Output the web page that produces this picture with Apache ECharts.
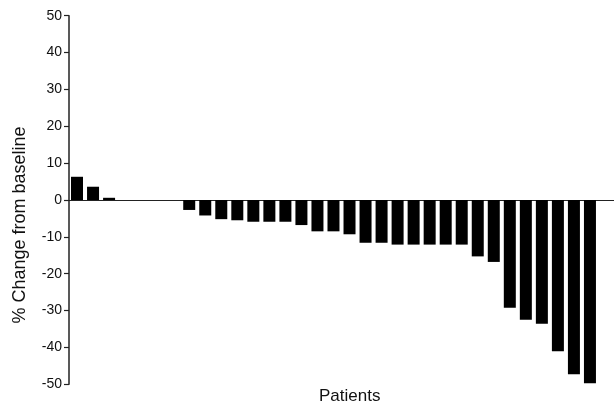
<!DOCTYPE html>
<html>
<head>
<meta charset="utf-8">
<script src="https://cdn.jsdelivr.net/npm/echarts@6/dist/echarts.min.js"></script>
<style>
  html, body { margin: 0; padding: 0; background: #fff; }
  #main { width: 614px; height: 405px; }
</style>
</head>
<body>
<div id="main"></div>
<script>
// one value per patient, % change from baseline (the last slot is empty)
var patients = [];
var changes = [6.3, 3.6, 0.6, 0, 0, 0, 0,
  -2.7, -4.2, -5.2, -5.5, -5.9, -5.9, -5.9, -6.8, -8.5, -8.5, -9.3,
  -11.6, -11.6, -12.1, -12.1, -12.1, -12.1, -12.1, -15.3, -16.8,
  -29.2, -32.5, -33.6, -41, -47.3, -49.7, 0];
for (var i = 0; i < changes.length; i++) patients.push('P' + (i + 1));
var yTicks = [-50, -40, -30, -20, -10, 0, 10, 20, 30, 40, 50];

var myChart = echarts.init(document.getElementById('main'));
var font = 'Liberation Sans, Arial, sans-serif';

myChart.setOption({
  animation: false,
  title: {
    text: 'Patients',
    left: 314,
    top: 383,
    textStyle: { fontFamily: font, fontSize: 17, fontWeight: 'normal', color: '#111' }
  },
  graphic: [{
    type: 'text',
    x: 20,
    y: 225,
    rotation: Math.PI / 2,
    style: {
      text: '% Change from baseline',
      font: '18px ' + font,
      fill: '#111',
      align: 'center',
      verticalAlign: 'middle'
    }
  }],
  grid: { left: 69, right: 0, top: 15.7, bottom: 20.7 },
  xAxis: {
    type: 'category',
    data: patients,
    axisLine: { onZero: true, lineStyle: { color: '#222', width: 1.2 } },
    axisTick: { show: false },
    axisLabel: { show: false }
  },
  yAxis: {
    type: 'value',
    min: yTicks[0],
    max: yTicks[yTicks.length - 1],
    interval: 10,
    axisLine: { show: true, lineStyle: { color: '#222', width: 1.5 } },
    axisTick: { show: true, length: 5, lineStyle: { color: '#222', width: 1.2 } },
    axisLabel: { margin: 7, fontFamily: font, fontSize: 14, color: '#111' },
    splitLine: { show: false }
  },
  series: [{
    type: 'bar',
    data: changes,
    barWidth: 12,
    itemStyle: { color: '#000' }
  }]
});
</script>
</body>
</html>
